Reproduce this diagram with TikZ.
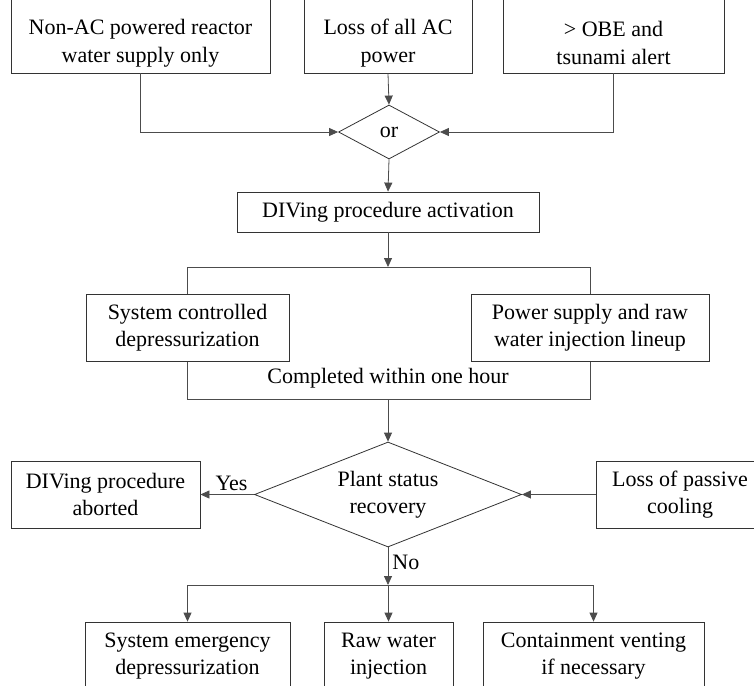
\documentclass[tikz,border=0pt]{standalone}
\usepackage{fontspec}
\setmainfont{Liberation Serif}
\usetikzlibrary{shapes.geometric,arrows.meta}

\begin{document}
\begin{tikzpicture}[x=1pt,y=-1pt,
    box/.style={draw=black!80, line width=0.8pt, fill=white, align=center, inner sep=0pt, minimum height=67pt},
    gate/.style={draw=black!80, line width=0.8pt, fill=white, shape=diamond, align=center, inner sep=0pt},
    link/.style={draw=black!70, line width=0.8pt},
    arr/.style={link, -{Triangle[length=9pt,width=8pt]}},
    font=\fontsize{22}{26.5}\selectfont]
    \useasboundingbox (0,0) rectangle (754,685);
    \clip (0,0) rectangle (754,685);

    \coordinate (S1) at (187, 267);
    \coordinate (S2) at (388, 267);
    \coordinate (J1) at (388, 399);
    \coordinate (J2) at (590, 399);
    \coordinate (F1) at (388, 585);

    % triggers (tops cut off by the page)
    \node[box, minimum width=259pt, minimum height=76pt] (nonac) at (140.5, 35) {\rule{0pt}{31pt}Non-AC powered reactor\\[1.5pt]water supply only};
    \node[box, minimum width=168pt, minimum height=76pt] (lossac) at (388, 35) {\rule{0pt}{31pt}Loss of all AC\\[1.5pt]power};
    \node[box, minimum width=221pt, minimum height=76pt] (obe) at (613.5, 35) {\rule{0pt}{31pt}> OBE and\\[1.5pt]tsunami alert};
    \node[gate, aspect=1.87, minimum width=101pt, minimum height=54pt] (orgate) at (389, 132) {or};

    \draw[arr] (nonac.south) |- (orgate.west);
    \draw[arr] (lossac.south) -- (orgate.north);
    \draw[arr] (obe.south) |- (orgate.east);

    \node[box, minimum width=302pt, minimum height=40pt] (activ) at (388, 212) {DIVing procedure activation};
    \draw[arr] (orgate.south) -- (activ.north);

    % parallel actions
    \draw[link] (S1) rectangle (J2);
    \draw[arr] (activ.south) -- (S2);
    \node[box, minimum width=203pt] (ctrl) at (187.5, 327.5) {System controlled\\depressurization};
    \node[box, minimum width=238pt] (lineup) at (590, 327.5) {Power supply and raw\\water injection lineup};
    \node (done) at (388, 378) {Completed within one hour};

    % check
    \node[gate, aspect=2.54, minimum width=267pt, minimum height=105pt] (plant) at (388, 494.5) {Plant status\\recovery};
    \draw[arr] (J1) -- (plant.north);
    \node[box, minimum width=189pt] (abort) at (105.5, 494.5) {DIVing procedure\\aborted};
    \node[box, minimum width=168pt] (passive) at (680, 494.5) {Loss of passive\\cooling};
    \draw[arr] (plant.west) -- (abort.east) node[pos=0.42, above, inner sep=3pt] {Yes};
    \draw[arr] (passive.west) -- (plant.east);

    % emergency actions
    \node[box, minimum width=205pt, minimum height=68pt] (sedep) at (187.5, 656) {System emergency\\depressurization};
    \node[box, minimum width=129pt, minimum height=68pt] (rawinj) at (388.5, 656) {Raw water\\injection};
    \node[box, minimum width=221pt, minimum height=68pt] (vent) at (593.5, 656) {Containment venting\\if necessary};
    \draw[arr] (plant.south) -- (F1) node[pos=0.4, right, inner sep=4pt] {No};
    \draw[link] (sedep.north |- F1) -- (vent.north |- F1);
    \foreach \n in {sedep, rawinj, vent}
        \draw[arr] (\n.north |- F1) -- (\n.north);
\end{tikzpicture}
\end{document}
